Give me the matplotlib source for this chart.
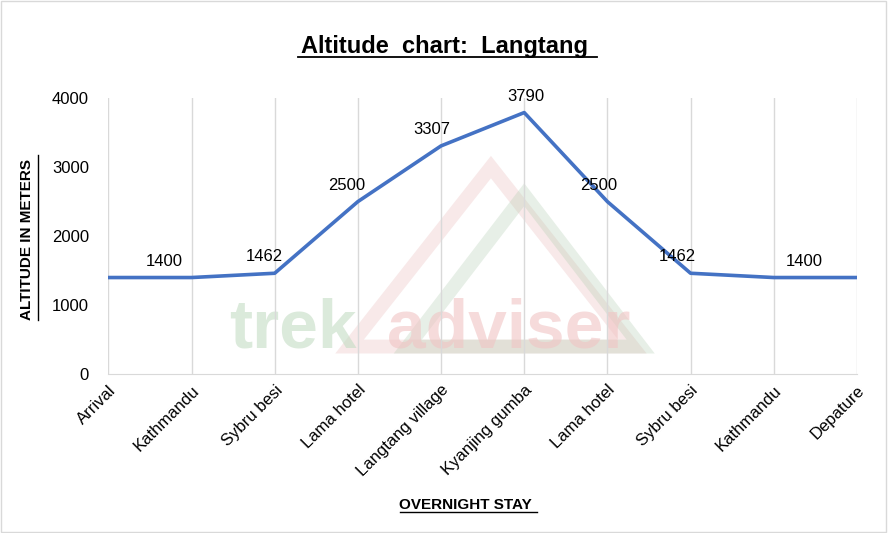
import matplotlib
matplotlib.use("Agg")
from matplotlib import pyplot as plt
from matplotlib.patches import Rectangle, Polygon

stays = ["Arrival", "Kathmandu", "Sybru besi", "Lama hotel", "Langtang village",
         "Kyanjing gumba", "Lama hotel", "Sybru besi", "Kathmandu", "Depature"]
altitude = [1400, 1400, 1462, 2500, 3307, 3790, 2500, 1462, 1400, 1400]
labelled = [1, 2, 3, 4, 5, 6, 7, 8]
label_dx = {1: -0.33, 2: -0.12, 3: -0.13, 4: -0.11, 5: 0.02, 6: -0.11, 7: -0.16, 8: 0.37}

plt.rcParams['font.family'] = ['Liberation Sans', 'DejaVu Sans']

fig = plt.figure(figsize=(8.88, 5.33), dpi=100)
ax = fig.add_axes([0.122, 0.298, 0.843, 0.518])

x = list(range(len(stays)))

# faint watermark
ax.add_patch(Polygon([(2.9, 400), (4.6, 3000), (6.3, 400)], closed=True,
                     fill=False, edgecolor='#e8b8b8', lw=10, alpha=0.3, zorder=0))
ax.add_patch(Polygon([(3.6, 400), (5.0, 2600), (6.4, 400)], closed=True,
                     fill=False, edgecolor='#b0ccb0', lw=10, alpha=0.3, zorder=0))
ax.text(1.45, 380, "trek", fontsize=50, fontweight='bold', color='#c4dcc4', alpha=0.6, zorder=0)
ax.text(3.35, 380, "adviser", fontsize=50, fontweight='bold', color='#f0c4c4', alpha=0.6, zorder=0)

ax.plot(x, altitude, color='#4472C4', lw=2.6, zorder=3)
for i in labelled:
    ax.text(i + label_dx[i], altitude[i] + 130, str(altitude[i]),
            ha='center', va='bottom', fontsize=12)

ax.set_xlim(0, 9)
ax.set_ylim(0, 4000)
ax.set_yticks([0, 1000, 2000, 3000, 4000])
ax.set_xticks(x)
ax.set_xticklabels(stays, rotation=45, ha='right', rotation_mode='anchor', fontsize=12)
ax.tick_params(axis='y', length=0, labelsize=12, pad=14)
ax.tick_params(axis='x', length=0, pad=6)
ax.grid(axis='x', color='#d9d9d9', lw=1)
for s in ['top', 'right', 'left']:
    ax.spines[s].set_visible(False)
ax.spines['bottom'].set_color('#d9d9d9')

fig.text(0.5, 0.9, "Altitude  chart:  Langtang", ha='center', fontsize=17, fontweight='bold')
fig.add_artist(plt.Line2D([0.336, 0.672], [0.893, 0.893], color='black', lw=1.3))
fig.text(0.524, 0.045, "OVERNIGHT STAY", ha='center', fontsize=11, fontweight='bold')
fig.add_artist(plt.Line2D([0.45, 0.605], [0.04, 0.04], color='black', lw=1))
fig.text(0.022, 0.55, "ALTITUDE IN METERS", va='center', rotation=90, fontsize=11, fontweight='bold')
fig.add_artist(plt.Line2D([0.043, 0.043], [0.4, 0.71], color='black', lw=1))

fig.add_artist(Rectangle((0.001, 0.002), 0.997, 0.996, transform=fig.transFigure,
                         fill=False, edgecolor='#d9d9d9', lw=1))
fig.savefig("out.png", dpi=100)
